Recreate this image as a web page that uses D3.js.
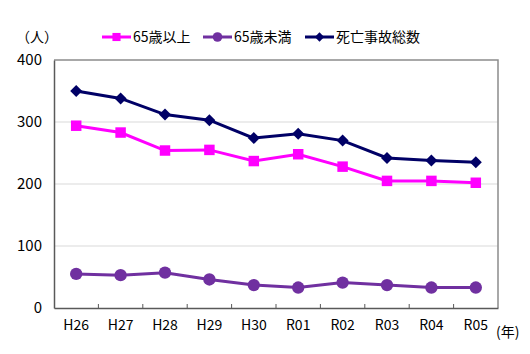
<!DOCTYPE html>
<html>
<head>
<meta charset="utf-8">
<script src="https://cdn.jsdelivr.net/npm/d3@7"></script>
<style>
  body { margin: 0; background: #fff; }
  svg text { font-family: "Noto Sans CJK JP", sans-serif; fill: #000; }
</style>
</head>
<body>
<div id="chart"></div>
<script>
// data
const years = ["H26", "H27", "H28", "H29", "H30", "R01", "R02", "R03", "R04", "R05"];
const elderly = [294, 283, 254, 255, 237, 248, 228, 205, 205, 202];   // 65歳以上
const younger = [55, 53, 57, 46, 37, 33, 41, 37, 33, 33];            // 65歳未満
const total = [350, 338, 312, 303, 274, 281, 270, 242, 238, 235];    // 死亡事故総数
const yTicks = [0, 100, 200, 300, 400];

const width = 530, height = 354;
const margin = { top: 60, right: 32, bottom: 46, left: 54 };

const svg = d3.select("#chart").append("svg")
    .attr("width", width)
    .attr("height", height);

const x = d3.scaleBand()
    .domain(years)
    .range([margin.left, width - margin.right]);

const y = d3.scaleLinear()
    .domain([0, 400])
    .range([height - margin.bottom, margin.top]);

// grid lines
svg.append("g")
    .selectAll("line")
    .data(yTicks.filter(d => d > 0 && d < 400))
    .join("line")
    .attr("x1", margin.left)
    .attr("x2", width - margin.right)
    .attr("y1", d => y(d))
    .attr("y2", d => y(d))
    .attr("stroke", "#d9d9d9")
    .attr("stroke-width", 1);

// plot border (top / right)
svg.append("path")
    .attr("d", `M${margin.left},${y(400)}H${width - margin.right}V${y(0)}`)
    .attr("fill", "none")
    .attr("stroke", "#8c8c8c")
    .attr("stroke-width", 1.5);

// y axis
const yAxis = svg.append("g")
    .attr("transform", `translate(${margin.left},0)`)
    .call(d3.axisLeft(y).tickValues(yTicks).tickSize(0).tickPadding(12));
yAxis.select(".domain").attr("stroke", "#595959").attr("stroke-width", 1.5);
yAxis.selectAll("text").attr("font-size", 15).attr("font-family", "'Noto Sans CJK JP', sans-serif");

// x axis
const xAxis = svg.append("g")
    .attr("transform", `translate(0,${y(0)})`)
    .call(d3.axisBottom(x).tickSize(0).tickPadding(12));
xAxis.select(".domain").attr("stroke", "#595959").attr("stroke-width", 1.5);
xAxis.selectAll("text").attr("font-size", 14).attr("dy", "0.71em").attr("font-family", "'Noto Sans CJK JP', sans-serif");

// small ticks between categories, pointing into the plot
svg.append("g")
    .selectAll("line")
    .data(years.slice(1))
    .join("line")
    .attr("x1", d => x(d))
    .attr("x2", d => x(d))
    .attr("y1", y(0))
    .attr("y2", y(0) - 4)
    .attr("stroke", "#595959");

const cx = d => x(d) + x.bandwidth() / 2;

// diamond = square turned 45deg
const series = [
    { name: "65歳以上", values: elderly, color: "#ff00ff", symbol: d3.symbolSquare, size: 110, rot: 0 },
    { name: "65歳未満", values: younger, color: "#7030a0", symbol: d3.symbolCircle, size: 120, rot: 0 },
    { name: "死亡事故総数", values: total, color: "#000066", symbol: d3.symbolSquare, size: 72, rot: 45 }
];

const line = d3.line()
    .x((d, i) => cx(years[i]))
    .y(d => y(d));

series.forEach(s => {
    svg.append("path")
        .datum(s.values)
        .attr("d", line)
        .attr("fill", "none")
        .attr("stroke", s.color)
        .attr("stroke-width", 3);

    svg.append("g")
        .selectAll("path")
        .data(s.values)
        .join("path")
        .attr("transform", (d, i) => `translate(${cx(years[i])},${y(d)}) rotate(${s.rot})`)
        .attr("d", d3.symbol().type(s.symbol).size(s.size))
        .attr("fill", s.color);
});

// legend
const legendX = [102, 203, 305];
const legend = svg.append("g")
    .selectAll("g")
    .data(series)
    .join("g")
    .attr("transform", (d, i) => `translate(${legendX[i]},37)`);

legend.append("line")
    .attr("x1", 0).attr("x2", 29)
    .attr("stroke", d => d.color)
    .attr("stroke-width", 3);

legend.append("path")
    .attr("transform", d => `translate(14.5,0) rotate(${d.rot})`)
    .attr("d", d => d3.symbol().type(d.symbol).size(d.size * 0.6)())
    .attr("fill", d => d.color);

legend.append("text")
    .attr("x", 31)
    .attr("dy", "0.35em")
    .attr("font-size", 14)
    .text(d => d.name);

// unit labels
svg.append("text")
    .attr("x", 16)
    .attr("y", 37)
    .attr("dy", "0.35em")
    .attr("font-size", 14)
    .text("（人）");

svg.append("text")
    .attr("x", 496)
    .attr("y", 332)
    .attr("dy", "0.35em")
    .attr("font-size", 14)
    .text("(年)");
</script>
</body>
</html>
